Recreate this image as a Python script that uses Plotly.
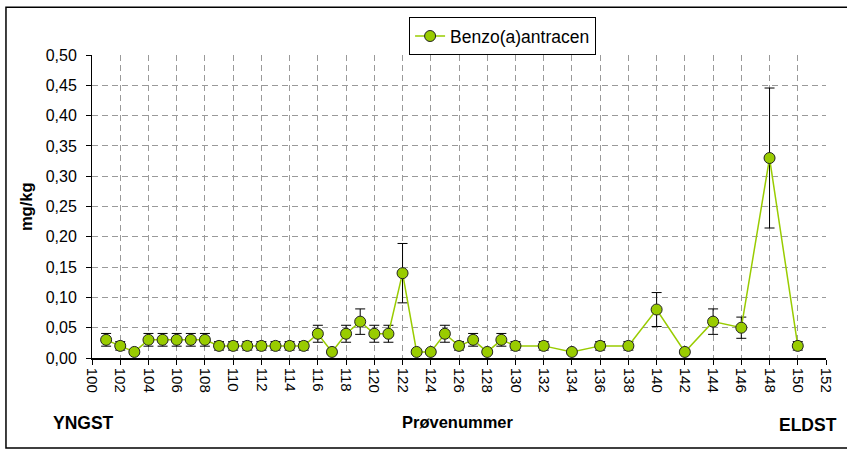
import plotly.graph_objects as go

# Sample numbers (Prøvenummer) and measured concentration (mg/kg)
sample_no = [101, 102, 103, 104, 105, 106, 107, 108, 109, 110,
             111, 112, 113, 114, 115, 116, 117, 118, 119, 120,
             121, 122, 123, 124, 125, 126, 127, 128, 129, 130,
             132, 134, 136, 138, 140, 142, 144, 146, 148, 150]
benzo_a_antracen = [0.03, 0.02, 0.01, 0.03, 0.03, 0.03, 0.03, 0.03, 0.02, 0.02,
                    0.02, 0.02, 0.02, 0.02, 0.02, 0.04, 0.01, 0.04, 0.06, 0.04,
                    0.04, 0.14, 0.01, 0.01, 0.04, 0.02, 0.03, 0.01, 0.03, 0.02,
                    0.02, 0.01, 0.02, 0.02, 0.08, 0.01, 0.06, 0.05, 0.33, 0.02]
# Relative measurement uncertainty, percent
uncertainty_pct = 35

x_ticks = list(range(100, 153, 2))
y_ticks = [i * 0.05 for i in range(11)]

FONT = "Liberation Sans, Arial, sans-serif"
GREEN = "#99CC00"

fig = go.Figure()
fig.add_trace(go.Scatter(
    x=sample_no,
    y=benzo_a_antracen,
    mode="lines+markers",
    name="Benzo(a)antracen",
    line=dict(color=GREEN, width=1.5),
    marker=dict(size=11, color=GREEN, line=dict(color="#222222", width=1)),
    error_y=dict(type="percent", value=uncertainty_pct, color="#000000",
                 thickness=1, width=5),
))

grid = dict(showgrid=True, gridcolor="#9a9a9a", gridwidth=1, griddash="6px,4px")


def label(text, x, y, size=16, angle=0):
    return dict(text=text, xref="paper", yref="paper", x=x, y=y,
                xanchor="center", yanchor="middle", showarrow=False,
                textangle=angle, font=dict(size=size))


fig.update_layout(
    width=847, height=452,
    margin=dict(l=92, r=21, t=55, b=94),
    paper_bgcolor="white", plot_bgcolor="white",
    separators=", ",
    font=dict(family=FONT, size=16, color="#000000"),
    showlegend=True,
    legend=dict(
        x=0.432, y=1.125, xanchor="left", yanchor="top",
        bordercolor="#000000", borderwidth=1, bgcolor="white",
        font=dict(family=FONT, size=17.5),
        itemwidth=30,
    ),
    xaxis=dict(
        range=[100, 152], tickmode="array", tickvals=x_ticks,
        ticktext=[str(v) for v in x_ticks], tickangle=90,
        ticks="outside", ticklen=5, tickcolor="#000000",
        showline=True, linecolor="#000000", linewidth=1.5,
        zeroline=False, tickfont=dict(size=15), **grid,
    ),
    yaxis=dict(
        range=[0, 0.5], tickmode="array", tickvals=y_ticks,
        tickformat=".2f",
        ticks="outside", ticklen=5, tickcolor="#000000",
        ticklabelstandoff=6,
        showline=True, linecolor="#000000", linewidth=1,
        zeroline=False, tickfont=dict(size=16), **grid,
    ),
    shapes=[dict(
        type="rect", xref="paper", yref="paper",
        x0=-0.1172, x1=1.07, y0=-0.297, y1=1.158,
        line=dict(color="#000000", width=1.5), fillcolor="rgba(0,0,0,0)",
        layer="below",
    )],
    annotations=[
        label("<b>Prøvenummer</b>", 0.4986, -0.211, 16.5),
        label("<b>mg/kg</b>", -0.0899, 0.498, 16.5, -90),
        label("<b>YNGST</b>", -0.0109, -0.2145, 17.5),
        label("<b>ELDST</b>", 0.9755, -0.221, 17.5),
    ],
)

fig.write_html("out.html")
